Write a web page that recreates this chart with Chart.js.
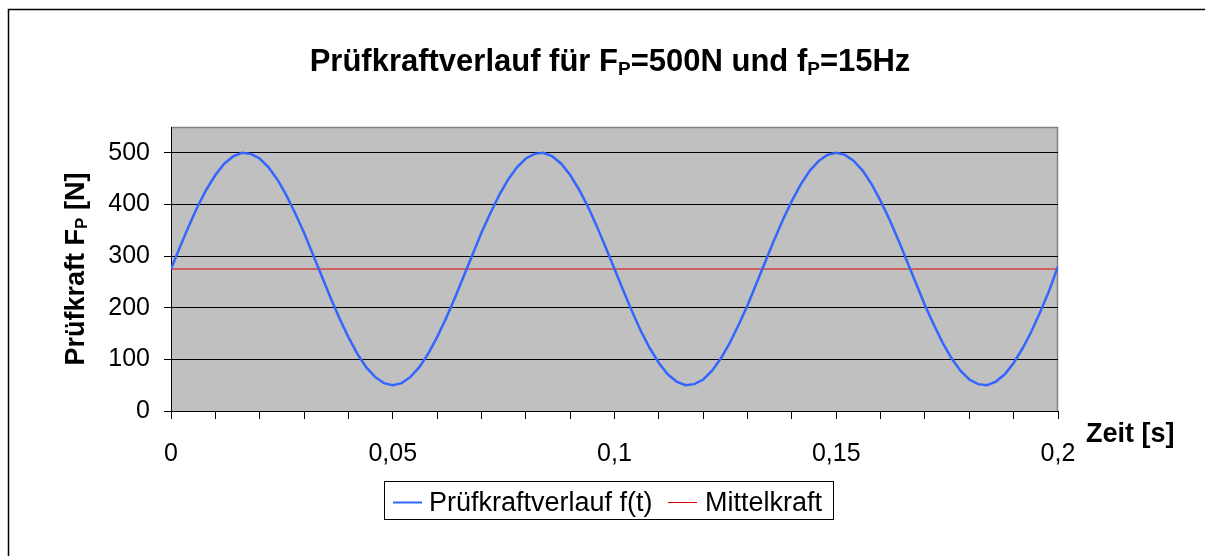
<!DOCTYPE html>
<html>
<head>
<meta charset="utf-8">
<title>Prüfkraftverlauf</title>
<script src="https://cdn.jsdelivr.net/npm/chart.js"></script>
<style>
body { margin: 0; background: #fff; }
canvas { display: block; }
</style>
</head>
<body>
<canvas id="chart" width="1205" height="556"></canvas>
<script>
// time [s]
const timeValues = [
  0, 0.002, 0.004, 0.006, 0.008, 0.01, 0.012, 0.014, 0.016, 0.018,
  0.02, 0.022, 0.024, 0.026, 0.028, 0.03, 0.032, 0.034, 0.036, 0.038,
  0.04, 0.042, 0.044, 0.046, 0.048, 0.05, 0.052, 0.054, 0.056, 0.058,
  0.06, 0.062, 0.064, 0.066, 0.068, 0.07, 0.072, 0.074, 0.076, 0.078,
  0.08, 0.082, 0.084, 0.086, 0.088, 0.09, 0.092, 0.094, 0.096, 0.098,
  0.1, 0.102, 0.104, 0.106, 0.108, 0.11, 0.112, 0.114, 0.116, 0.118,
  0.12, 0.122, 0.124, 0.126, 0.128, 0.13, 0.132, 0.134, 0.136, 0.138,
  0.14, 0.142, 0.144, 0.146, 0.148, 0.15, 0.152, 0.154, 0.156, 0.158,
  0.16, 0.162, 0.164, 0.166, 0.168, 0.17, 0.172, 0.174, 0.176, 0.178,
  0.18, 0.182, 0.184, 0.186, 0.188, 0.19, 0.192, 0.194, 0.196, 0.198,
  0.2
];
// Prüfkraft f(t) [N]
const forceValues = [
  275, 317, 358, 396, 429, 457, 479, 493, 500, 498,
  489, 472, 448, 418, 383, 345, 303, 261, 219, 179,
  143, 111, 85, 66, 54, 50, 54, 66, 85, 111,
  143, 179, 219, 261, 303, 345, 383, 418, 448, 472,
  489, 498, 500, 493, 479, 457, 429, 396, 358, 317,
  275, 233, 192, 154, 121, 93, 71, 57, 50, 52,
  61, 78, 102, 132, 167, 205, 247, 289, 331, 371,
  407, 439, 465, 484, 496, 500, 496, 484, 465, 439,
  407, 371, 331, 289, 247, 205, 167, 132, 102, 78,
  61, 52, 50, 57, 71, 93, 121, 154, 192, 233,
  280
];
// Mittelkraft [N]
const meanTimes = [0, 0.2];
const meanValues = [275, 275];

const seriesLabels = ["Prüfkraftverlauf f(t)", "Mittelkraft"];
const seriesColors = ["#3366FF", "#E00000"];

const FONT = "Arial, 'Liberation Sans', sans-serif";

// text with subscript parts: [text, isSub]
function drawRich(ctx, parts, size, bold) {
  const w = bold ? "bold " : "";
  let total = 0;
  parts.forEach(p => {
    ctx.font = w + (p[1] ? Math.round(size * 0.62) : size) + "px " + FONT;
    total += ctx.measureText(p[0]).width;
  });
  return function (x, y) {
    let cx = x - total / 2;
    parts.forEach(p => {
      ctx.font = w + (p[1] ? Math.round(size * 0.62) : size) + "px " + FONT;
      ctx.fillText(p[0], cx, p[1] ? y + size * 0.12 : y);
      cx += ctx.measureText(p[0]).width;
    });
  };
}

const decorations = {
  id: "decorations",
  beforeDraw(chart) {
    const ctx = chart.ctx;
    const a = chart.chartArea;
    ctx.save();
    ctx.fillStyle = "#fff";
    ctx.fillRect(0, 0, chart.width, chart.height);
    // outer frame
    ctx.strokeStyle = "#000";
    ctx.lineWidth = 1.5;
    ctx.beginPath();
    ctx.moveTo(8.5, chart.height);
    ctx.lineTo(8.5, 9.5);
    ctx.lineTo(chart.width, 9.5);
    ctx.stroke();
    // plot area
    ctx.fillStyle = "#C0C0C0";
    ctx.fillRect(a.left, a.top, a.right - a.left, a.bottom - a.top);
    ctx.strokeStyle = "#808080";
    ctx.lineWidth = 1.5;
    ctx.beginPath();
    ctx.moveTo(a.left, a.top + 0.5);
    ctx.lineTo(a.right - 0.5, a.top + 0.5);
    ctx.lineTo(a.right - 0.5, a.bottom);
    ctx.stroke();
    ctx.restore();
  },
  afterDraw(chart) {
    const ctx = chart.ctx;
    ctx.save();
    ctx.fillStyle = "#000";
    ctx.textBaseline = "alphabetic";
    ctx.textAlign = "left";

    // title
    drawRich(ctx, [["Prüfkraftverlauf für F", false], ["P", true], ["=500N und f", false], ["P", true], ["=15Hz", false]], 31, true)(610, 71);

    // y axis title
    ctx.save();
    ctx.translate(84, 269);
    ctx.rotate(-Math.PI / 2);
    drawRich(ctx, [["Prüfkraft F", false], ["P", true], [" [N]", false]], 27, true)(0, 0);
    ctx.restore();

    // x axis title
    ctx.font = "bold 27px " + FONT;
    ctx.fillText("Zeit [s]", 1086, 442);

    // legend
    ctx.strokeStyle = "#000";
    ctx.lineWidth = 1;
    ctx.strokeRect(384.5, 481.5, 449, 38);
    ctx.font = "27px " + FONT;
    const items = [[393, 429], [668, 705]];
    chart.data.datasets.forEach((ds, i) => {
      ctx.strokeStyle = ds.borderColor;
      ctx.lineWidth = i === 0 ? 2 : 1;
      ctx.beginPath();
      ctx.moveTo(items[i][0], 502.5);
      ctx.lineTo(items[i][0] + 29, 502.5);
      ctx.stroke();
      ctx.fillText(ds.label, items[i][1], 511);
    });
    ctx.restore();
  }
};

new Chart(document.getElementById("chart"), {
  type: "line",
  data: {
    datasets: [
      {
        label: seriesLabels[0],
        data: timeValues.map((t, i) => ({ x: t, y: forceValues[i] })),
        borderColor: seriesColors[0],
        borderWidth: 2.5,
        pointRadius: 0,
        tension: 0
      },
      {
        label: seriesLabels[1],
        data: meanTimes.map((t, i) => ({ x: t, y: meanValues[i] })),
        borderColor: seriesColors[1],
        borderWidth: 1,
        pointRadius: 0
      }
    ]
  },
  options: {
    responsive: false,
    animation: false,
    devicePixelRatio: 1,
    layout: { padding: { left: 0, top: 127, right: 147, bottom: 0 } },
    plugins: { legend: { display: false }, title: { display: false }, tooltip: { enabled: false } },
    scales: {
      x: {
        type: "linear",
        min: 0,
        max: 0.2,
        ticks: {
          stepSize: 0.01,
          autoSkip: false,
          maxRotation: 0,
          color: "#000",
          padding: 20,
          font: { family: FONT, size: 25 },
          callback: v => Math.abs(v * 20 - Math.round(v * 20)) < 1e-6 ? String(Math.round(v * 100) / 100).replace(".", ",") : ""
        },
        grid: { drawOnChartArea: false, drawTicks: true, tickLength: 8, tickColor: "#000" },
        border: { color: "#000", width: 1 },
        afterFit: s => { s.height = 145; s.paddingLeft = 0; s.paddingRight = 0; }
      },
      y: {
        type: "linear",
        min: 0,
        max: 550,
        ticks: {
          stepSize: 50,
          color: "#000",
          padding: 14,
          font: { family: FONT, size: 25 },
          callback: v => (v % 100 === 0 && v <= 500) ? String(v) : ""
        },
        grid: {
          drawTicks: true,
          tickLength: 7,
          color: c => (c.tick && c.tick.value % 100 === 0 && c.tick.value > 0 && c.tick.value < 550) ? "#000" : "rgba(0,0,0,0)",
          tickColor: c => (c.tick && c.tick.value >= 550) ? "rgba(0,0,0,0)" : "#000"
        },
        border: { color: "#000", width: 1 },
        afterFit: s => { s.width = 171; s.paddingTop = 0; s.paddingBottom = 0; }
      }
    }
  },
  plugins: [decorations]
});
</script>
</body>
</html>
